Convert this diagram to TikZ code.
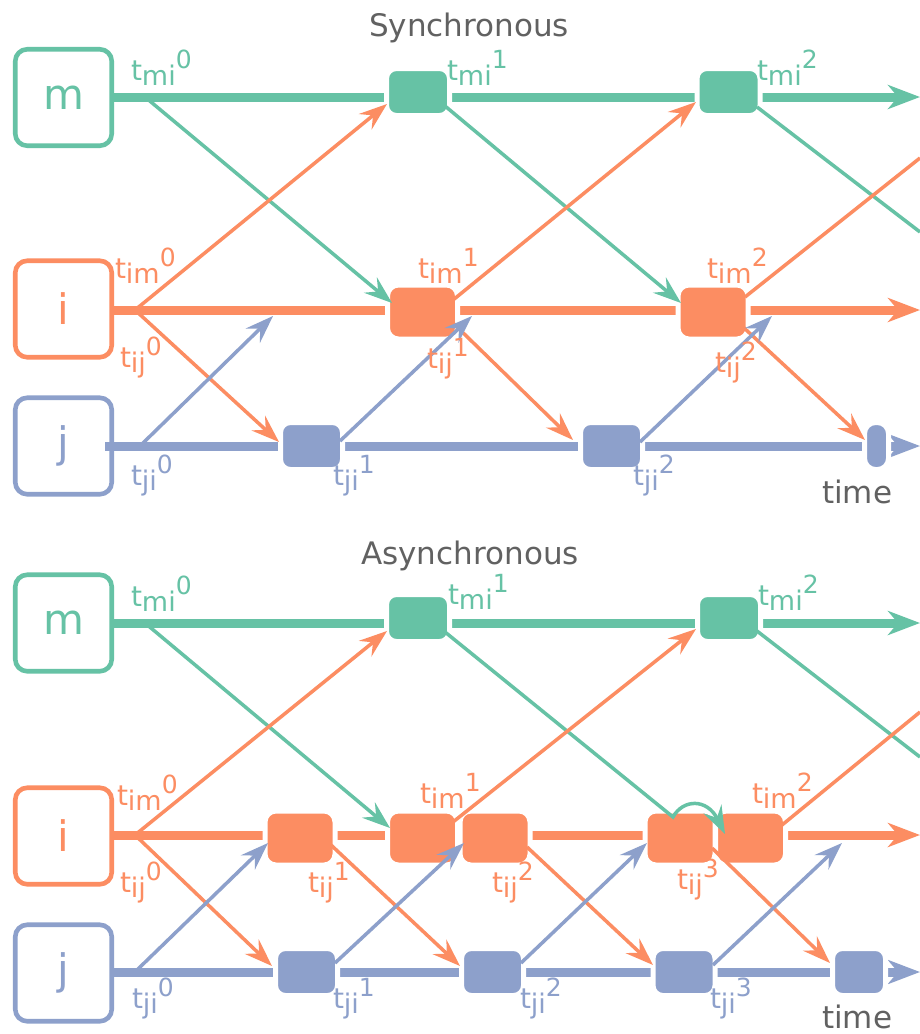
\documentclass[tikz,border=0pt]{standalone}
\usepackage{fontspec}
\setmainfont{DejaVu Sans}
\usetikzlibrary{arrows.meta}
\definecolor{cg}{RGB}{102,194,165}
\definecolor{co}{RGB}{252,141,98}
\definecolor{cb}{RGB}{141,160,203}
\definecolor{tg}{RGB}{97,97,97}
\newcommand{\tl}[2]{{\fontsize{28}{28}\selectfont t}\raisebox{-5pt}{\fontsize{27}{27}\selectfont #1}\raisebox{12pt}{\fontsize{25}{25}\selectfont #2}}
\tikzset{
  proc/.style={draw=#1, line width=4.6pt, rounded corners=12pt, minimum width=96.5pt, minimum height=96.5pt, inner sep=0pt, outer sep=0pt, text=#1, font=\fontsize{42}{42}\selectfont},
  tline/.style={draw=#1, line width=9pt, -{Stealth[length=32pt,width=24pt,inset=10pt]}},
  ev/.style={rectangle, fill=#1, draw=white, line width=5pt, rounded corners=10pt, inner sep=0pt, outer sep=0pt},
  evm/.style={ev=cg, minimum width=63pt, minimum height=47pt},
  evi/.style={ev=co, minimum width=70pt, minimum height=54pt, rounded corners=11pt},
  evj/.style={ev=cb, minimum width=62pt, minimum height=47pt},
  msg/.style={draw=#1, line width=3.5pt, -{Stealth[length=28pt,width=20pt,inset=10pt]}},
  msgn/.style={draw=#1, line width=3.5pt},
  lab/.style={anchor=base west, inner sep=0pt, outer sep=0pt, text=#1},
  ttl/.style={anchor=base, inner sep=0pt, text=tg, font=\fontsize{31}{31}\selectfont},
  tim/.style={anchor=base west, inner sep=0pt, text=tg, font=\fontsize{31}{31}\selectfont}
}
\begin{document}
\begin{tikzpicture}[x=1pt,y=-1pt]
\useasboundingbox (0,0) rectangle (920,1034);
\fill[white] (0,0) rectangle (920,1034);

% ================= Synchronous =================
\node[ttl] (tS) at (469,36) {Synchronous};
\node[proc=cg] (mS) at (63.5,97.5) {m};
\node[proc=co] (iS) at (63.5,309) {i};
\node[proc=cb] (jS) at (63.5,446) {j};

\coordinate (mSend) at (920,97);
\coordinate (iSend) at (920,310);
\coordinate (jSstart) at (105,446);
\coordinate (jSend) at (920,446);
\draw[tline=cg] (mS.east |- mSend) -- (mSend);
\draw[tline=co] (iS.east |- iSend) -- (iSend);
\draw[tline=cb] (jSstart) -- (jSend);

\node[evm] (sme1) at (418,92) {};
\node[evm] (sme2) at (728.5,92) {};
\node[evi] (sie1) at (422.5,312) {};
\node[evi] (sie2) at (713,312) {};
\node[evj] (sje1) at (311.5,446) {};
\node[evj] (sje2) at (611.5,446) {};
\node[ev=cb, minimum width=24pt, minimum height=47pt, rounded corners=11pt] (sje3) at (876.5,446) {};

% connector end points
\coordinate (sm0) at (145,97);
\coordinate (si0) at (135,310);
\coordinate (sj0) at (140,446);
\coordinate (sg1e) at (392,303);
\coordinate (sg2s) at (445,106);
\coordinate (sg2e) at (681,303);
\coordinate (sg3s) at (757,107);
\coordinate (sg3e) at (920,232);
\coordinate (so1e) at (387,104);
\coordinate (so2s) at (453,300);
\coordinate (so2e) at (696,102);
\coordinate (so3s) at (745,297);
\coordinate (so3e) at (920,158);
\coordinate (so4e) at (279,442);
\coordinate (so5s) at (453,323);
\coordinate (so5e) at (573,440);
\coordinate (so6s) at (743,327);
\coordinate (so6e) at (865,440);
\coordinate (sb1e) at (273,316);
\coordinate (sb2s) at (340,441);
\coordinate (sb2e) at (472,316);
\coordinate (sb3s) at (640,442);
\coordinate (sb3e) at (772,316);

\draw[msg=cg] (sm0) -- (sg1e);
\draw[msg=cg] (sg2s) -- (sg2e);
\draw[msgn=cg] (sg3s) -- (sg3e);
\draw[msg=co] (si0) -- (so1e);
\draw[msg=co] (so2s) -- (so2e);
\draw[msgn=co] (so3s) -- (so3e);
\draw[msg=co] (si0) -- (so4e);
\draw[msg=co] (so5s) -- (so5e);
\draw[msg=co] (so6s) -- (so6e);
\draw[msg=cb] (sj0) -- (sb1e);
\draw[msg=cb] (sb2s) -- (sb2e);
\draw[msg=cb] (sb3s) -- (sb3e);

\node[lab=cg] (lsmi0) at (131,80) {\tl{mi}{0}};
\node[lab=cg] (lsmi1) at (447,80) {\tl{mi}{1}};
\node[lab=cg] (lsmi2) at (757,80) {\tl{mi}{2}};
\node[lab=co] (lsim0) at (115,278) {\tl{im}{0}};
\node[lab=co] (lsim1) at (418,278) {\tl{im}{1}};
\node[lab=co] (lsim2) at (707,278) {\tl{im}{2}};
\node[lab=co] (lsij0) at (120,367) {\tl{ij}{0}};
\node[lab=co] (lsij1) at (427,368) {\tl{ij}{1}};
\node[lab=co] (lsij2) at (715,372) {\tl{ij}{2}};
\node[lab=cb] (lsji0) at (131,485) {\tl{ji}{0}};
\node[lab=cb] (lsji1) at (333,485) {\tl{ji}{1}};
\node[lab=cb] (lsji2) at (633,485) {\tl{ji}{2}};
\node[tim] (timeS) at (822,503) {time};

% ================= Asynchronous =================
\node[ttl] (tA) at (470,564) {Asynchronous};
\node[proc=cg] (mA) at (63.5,623) {m};
\node[proc=co] (iA) at (63.5,836) {i};
\node[proc=cb] (jA) at (63.5,973) {j};

\coordinate (mAend) at (920,623);
\coordinate (iAend) at (920,835);
\coordinate (jAend) at (920,972);
\draw[tline=cg] (mA.east |- mAend) -- (mAend);
\draw[tline=co] (iA.east |- iAend) -- (iAend);
\draw[tline=cb] (jA.east |- jAend) -- (jAend);

\node[evm] (ame1) at (418,618) {};
\node[evm] (ame2) at (729,618) {};
\node[evi] (aie1) at (300,838) {};
\node[evi] (aie2) at (422.5,838) {};
\node[evi] (aie3) at (495,838) {};
\node[evi] (aie4) at (680,838) {};
\node[evi] (aie5) at (750.5,838) {};
\node[evj] (aje1) at (306.5,972) {};
\node[evj] (aje2) at (492.5,972) {};
\node[evj] (aje3) at (684,972) {};
\node[ev=cb, minimum width=53pt, minimum height=47pt] (aje4) at (859,972) {};

\coordinate (am0) at (145,623);
\coordinate (ai0) at (135,835);
\coordinate (aj0) at (137,970);
\coordinate (ag1e) at (390,828);
\coordinate (ag2s) at (445,632);
\coordinate (ag2v) at (673,817);
\coordinate (ag2e) at (725,834);
\coordinate (ag3s) at (757,631);
\coordinate (ag3e) at (920,757);
\coordinate (ao1e) at (387,631);
\coordinate (ao2s) at (453,822);
\coordinate (ao2e) at (696,629);
\coordinate (ao3s) at (782,825);
\coordinate (ao3e) at (920,712);
\coordinate (ao4e) at (272,966);
\coordinate (ao5s) at (331,845);
\coordinate (ao5e) at (460,966);
\coordinate (ao6s) at (527,847);
\coordinate (ao6e) at (653,965);
\coordinate (ao7s) at (712,848);
\coordinate (ao7e) at (830,963);
\coordinate (ab1e) at (268,843);
\coordinate (ab2s) at (335,963);
\coordinate (ab2e) at (464,843);
\coordinate (ab3s) at (521,963);
\coordinate (ab3e) at (647,843);
\coordinate (ab4s) at (713,965);
\coordinate (ab4e) at (842,843);

\draw[msg=cg] (am0) -- (ag1e);
\draw[msg=cg] (ag2s) -- (ag2v) .. controls (683,799) and (707,798) .. (ag2e);
\draw[msgn=cg] (ag3s) -- (ag3e);
\draw[msg=co] (ai0) -- (ao1e);
\draw[msg=co] (ao2s) -- (ao2e);
\draw[msgn=co] (ao3s) -- (ao3e);
\draw[msg=co] (ai0) -- (ao4e);
\draw[msg=co] (ao5s) -- (ao5e);
\draw[msg=co] (ao6s) -- (ao6e);
\draw[msg=co] (ao7s) -- (ao7e);
\draw[msg=cb] (aj0) -- (ab1e);
\draw[msg=cb] (ab2s) -- (ab2e);
\draw[msg=cb] (ab3s) -- (ab3e);
\draw[msg=cb] (ab4s) -- (ab4e);

\node[lab=cg] (lami0) at (131,606) {\tl{mi}{0}};
\node[lab=cg] (lami1) at (448,604) {\tl{mi}{1}};
\node[lab=cg] (lami2) at (758,605) {\tl{mi}{2}};
\node[lab=co] (laim0) at (117,805) {\tl{im}{0}};
\node[lab=co] (laim1) at (420,803) {\tl{im}{1}};
\node[lab=co] (laim2) at (752,803) {\tl{im}{2}};
\node[lab=co] (laij0) at (120,892) {\tl{ij}{0}};
\node[lab=co] (laij1) at (308,892) {\tl{ij}{1}};
\node[lab=co] (laij2) at (492,892) {\tl{ij}{2}};
\node[lab=co] (laij3) at (677,889) {\tl{ij}{3}};
\node[lab=cb] (laji0) at (132,1008) {\tl{ji}{0}};
\node[lab=cb] (laji1) at (333,1008) {\tl{ji}{1}};
\node[lab=cb] (laji2) at (520,1008) {\tl{ji}{2}};
\node[lab=cb] (laji3) at (710,1008) {\tl{ji}{3}};
\node[tim] (timeA) at (822,1028) {time};
\end{tikzpicture}
\end{document}
